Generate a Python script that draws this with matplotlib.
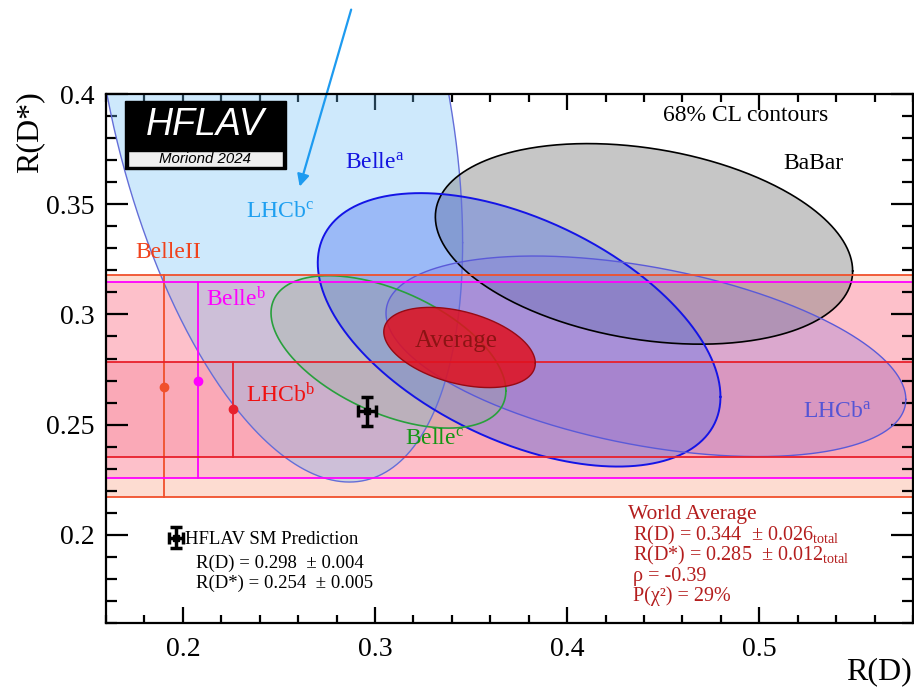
import numpy as np
import matplotlib
matplotlib.use("Agg")
import matplotlib.pyplot as plt
from matplotlib.patches import Rectangle
from matplotlib.ticker import MultipleLocator, FuncFormatter

plt.rcParams['font.family'] = ['Liberation Serif', 'DejaVu Serif']
plt.rcParams['mathtext.fontset'] = 'custom'
plt.rcParams['mathtext.rm'] = 'Liberation Serif'
plt.rcParams['mathtext.it'] = 'Liberation Serif:italic'

# 2D measurements (R(D), R(D*)) with total errors and correlation
meas_names = ['LHCb^c', 'BaBar', 'Belle^a', 'LHCb^a', 'Belle^c']
meas_rd = [0.249, 0.440, 0.375, 0.441, 0.307]
meas_rd_err = [0.0637, 0.0716, 0.0691, 0.0892, 0.0403]
meas_rds = [0.402, 0.332, 0.293, 0.281, 0.283]
meas_rds_err = [0.1174, 0.0300, 0.0409, 0.0300, 0.0228]
meas_rho = [-0.39, -0.27, -0.49, -0.43, -0.51]

# R(D*)-only measurements, drawn as bands
band_names = ['BelleII', 'Belle^b', 'LHCb^b']
band_rd = [0.190, 0.208, 0.226]
band_rds = [0.267, 0.270, 0.257]
band_err_lo = [0.050, 0.044, 0.0216]
band_err_hi = [0.051, 0.0445, 0.0216]

# world average
avg_rd, avg_rd_err = 0.344, 0.026
avg_rds, avg_rds_err = 0.285, 0.012
avg_rho = -0.39

# SM prediction point
sm_rd, sm_rd_err = 0.296, 0.0047
sm_rds, sm_rds_err = 0.256, 0.0064

yticks = [0.2, 0.25, 0.3, 0.35, 0.4]
xticks = [0.2, 0.3, 0.4, 0.5]


def contour(x0, sx, y0, sy, r, n=500):
    # 68% CL contour for 2 dof
    t = np.linspace(0, 2 * np.pi, n)
    k = np.sqrt(2.30)
    x = x0 + k * sx * np.cos(t)
    y = y0 + k * sy * (r * np.cos(t) + np.sqrt(1 - r ** 2) * np.sin(t))
    return x, y


fig = plt.figure(figsize=(9.14, 6.89), dpi=100)
ax = fig.add_axes([106 / 914, 1 - 623 / 689, 807 / 914, 529 / 689])
ax.set_xlim(0.16, 0.58)
ax.set_ylim(0.16, 0.4)

# bands
band_fill = [('#f86030', 0.22), ('#ff69b4', 0.24), ('#f03c5a', 0.17)]
band_line = ['#f0502c', '#ff00ff', '#e8202c']
for i in range(len(band_names)):
    ax.axhspan(band_rds[i] - band_err_lo[i], band_rds[i] + band_err_hi[i],
               color=band_fill[i][0], alpha=band_fill[i][1], lw=0, zorder=1)

# ellipse fills
ell_fill = {'LHCb^c': ('#6cbef6', 0.33), 'BaBar': ('#828282', 0.45),
            'Belle^a': ('#3c64f0', 0.35), 'LHCb^a': ('#7864dc', 0.25),
            'Belle^c': ('#8cb48c', 0.25)}
ell_edge = {'LHCb^c': ('#646ed8', 1.0), 'BaBar': ('black', 1.2),
            'Belle^a': ('#1414e6', 1.4), 'LHCb^a': ('#5a5ad8', 1.0),
            'Belle^c': ('#28a03c', 1.2)}
shapes = {}
for i, nm in enumerate(meas_names):
    x, y = contour(meas_rd[i], meas_rd_err[i], meas_rds[i], meas_rds_err[i], meas_rho[i])
    shapes[nm] = (x, y)
    ax.fill(x, y, color=ell_fill[nm][0], alpha=ell_fill[nm][1], lw=0, zorder=2)
for nm in meas_names:
    x, y = shapes[nm]
    ax.plot(x, y, color=ell_edge[nm][0], lw=ell_edge[nm][1], zorder=3)

# band edges, vertical error lines and points
for i in range(len(band_names)):
    lo = band_rds[i] - band_err_lo[i]
    hi = band_rds[i] + band_err_hi[i]
    ax.axhline(lo, color=band_line[i], lw=1.3, zorder=4)
    ax.axhline(hi, color=band_line[i], lw=1.3, zorder=4)
    ax.plot([band_rd[i], band_rd[i]], [lo, hi], color=band_line[i], lw=1.3, zorder=4)
    ax.plot(band_rd[i], band_rds[i], 'o', color=band_line[i], ms=6, zorder=4)

# average
x, y = contour(avg_rd, avg_rd_err, avg_rds, avg_rds_err, avg_rho)
ax.fill(x, y, color='#e0101e', alpha=0.85, lw=0, zorder=5)
ax.plot(x, y, color='#960a14', lw=1.0, zorder=5)

# SM prediction
ax.errorbar(sm_rd, sm_rds, xerr=sm_rd_err, yerr=sm_rds_err, fmt='s', ms=4,
            color='black', elinewidth=2.5, capsize=4, capthick=2.5, zorder=6)
ax.errorbar(0.1964, 0.1986, xerr=sm_rd_err * 0.8, yerr=sm_rds_err * 0.75, fmt='s', ms=4,
            color='black', elinewidth=2.5, capsize=4, capthick=2.5, zorder=6,
            clip_on=False)

# labels on the plot
fs = 17
ax.text(0.2328, 0.3441, r'LHCb$^{\rm c}$', color='#1e9ff0', fontsize=fs, va='baseline', zorder=7)
ax.text(0.2844, 0.3664, r'Belle$^{\rm a}$', color='#1414e0', fontsize=fs, va='baseline', zorder=7)
ax.text(0.1755, 0.3255, 'BelleII', color='#f0421c', fontsize=fs, va='baseline', zorder=7)
ax.text(0.2120, 0.3036, r'Belle$^{\rm b}$', color='#ff00ff', fontsize=fs, va='baseline', zorder=7)
ax.text(0.2328, 0.2600, r'LHCb$^{\rm b}$', color='#f01010', fontsize=fs, va='baseline', zorder=7)
ax.text(0.3156, 0.2414, r'Belle$^{\rm c}$', color='#149614', fontsize=fs, va='baseline', zorder=7)
ax.text(0.3208, 0.2850, 'Average', color='#8c1414', fontsize=18, va='baseline', zorder=7)
ax.text(0.5229, 0.2536, r'LHCb$^{\rm a}$', color='#5555d5', fontsize=fs, va='baseline', zorder=7)
ax.text(0.4500, 0.3877, '68% CL contours', color='black', fontsize=fs, va='baseline', zorder=7)
ax.text(0.5125, 0.3659, 'BaBar', color='black', fontsize=fs, va='baseline', zorder=7)

ax.text(0.2010, 0.1959, 'HFLAV SM Prediction', fontsize=13.5, va='baseline')
ax.text(0.2068, 0.1850, 'R(D) = 0.298  ± 0.004', fontsize=13.5, va='baseline')
ax.text(0.2068, 0.1759, 'R(D*) = 0.254  ± 0.005', fontsize=13.5, va='baseline')

wa = '#b41e1e'
ax.text(0.4318, 0.2073, 'World Average', color=wa, fontsize=15.5, va='baseline')
ax.text(0.4344, 0.1975, r'R(D) = 0.344  ± 0.026$_{\rm total}$', color=wa, fontsize=14.5, va='baseline')
ax.text(0.4344, 0.1882, r'R(D*) = 0.285  ± 0.012$_{\rm total}$', color=wa, fontsize=14.5, va='baseline')
ax.text(0.4344, 0.1789, 'ρ = -0.39', color=wa, fontsize=14.5, va='baseline')
ax.text(0.4344, 0.1700, 'P(χ²) = 29%', color=wa, fontsize=14.5, va='baseline')

# arrow pointing at LHCb^c label
ax.annotate('', xy=(0.2604, 0.3568), xytext=(0.288, 0.4395),
            arrowprops=dict(arrowstyle='-|>', color='#1e9bf0', lw=1.6,
                            mutation_scale=18),
            annotation_clip=False, zorder=8)

# HFLAV logo
ax.add_patch(Rectangle((0.0235, 0.858), 0.1995, 0.129, transform=ax.transAxes,
                       facecolor='black', edgecolor='black', zorder=9))
ax.add_patch(Rectangle((0.027, 0.862), 0.1925, 0.031, transform=ax.transAxes,
                       facecolor='#eeeeee', edgecolor='black', lw=1, zorder=10))
ax.text(0.1227, 0.9405, 'HFLAV', transform=ax.transAxes, color='white',
        fontsize=27, family='Liberation Sans', style='italic',
        ha='center', va='center', zorder=11)
ax.text(0.1227, 0.877, 'Moriond 2024', transform=ax.transAxes, color='black',
        fontsize=10.8, family='Liberation Sans', style='italic',
        ha='center', va='center', zorder=11)

# axes styling
ax.set_xticks(xticks)
ax.set_yticks(yticks)
ax.xaxis.set_minor_locator(MultipleLocator(0.02))
ax.yaxis.set_minor_locator(MultipleLocator(0.01))
fmt = FuncFormatter(lambda v, p: '%g' % round(v, 3))
ax.xaxis.set_major_formatter(fmt)
ax.yaxis.set_major_formatter(fmt)
ax.tick_params(which='both', direction='in', top=True, right=True, labelsize=20, width=1.6)
ax.tick_params(axis='y', which='major', length=16, pad=8)
ax.tick_params(axis='y', which='minor', length=8)
ax.tick_params(axis='x', which='major', length=11.5, pad=10)
ax.tick_params(axis='x', which='minor', length=6)
for s in ax.spines.values():
    s.set_linewidth(1.6)
    s.set_zorder(12)

fig.text(30 / 914, 1 - 91 / 689, 'R(D*)', rotation=90, fontsize=23, ha='center', va='top')
fig.text(912 / 914, 1 - 672 / 689, 'R(D)', fontsize=23, ha='right', va='center')

fig.savefig('out.png', dpi=100)
